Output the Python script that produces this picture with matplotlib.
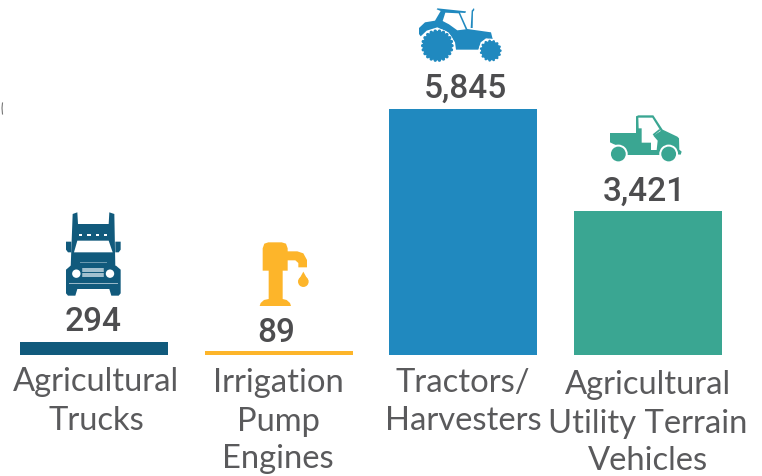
import numpy as np
import matplotlib
matplotlib.use("Agg")
import matplotlib.pyplot as plt
from matplotlib.patches import Polygon, Circle

# ---- data ----
categories = [["Agricultural", "Trucks"],
              ["Irrigation", "Pump", "Engines"],
              ["Tractors/", "Harvesters"],
              ["Agricultural", "Utility Terrain", "Vehicles"]]
values = [294, 89, 5845, 3421]
value_labels = ["294", "89", "5,845", "3,421"]
colors = ["#115A7C", "#FDB52A", "#2089BF", "#3AA692"]

W, H = 762, 477
fig = plt.figure(figsize=(W / 100, H / 100), dpi=100, facecolor="white")

# bar axes: value 0 at pixel row 355, 5845 at pixel row 109
ax = fig.add_axes([0, 0, 1, 1])
k = 5845 / 246
sp = 184.67
base = 355.5
ax.set_xlim(-94 / sp, (W - 94) / sp)
ax.set_ylim(-(H - base) * k, base * k)
ax.axis("off")
ax.bar(range(4), values, width=148 / sp, color=colors, linewidth=0)

# overlay in pixel coordinates for icons and text
ov = fig.add_axes([0, 0, 1, 1])
ov.set_xlim(0, W)
ov.set_ylim(H, 0)
ov.axis("off")
ov.patch.set_alpha(0)

TXT = "#4D4D4F"
LBL = "#5A5A5C"
val_x = [93, 276, 465, 644]
val_y = [331, 342, 98, 201]
for s, x, y in zip(value_labels, val_x, val_y):
    ov.text(x, y, s, ha="center", va="baseline", family="Roboto",
            fontsize=24, fontweight="medium", color=TXT)

lab_x = [96, 278, 463, 648]
lab_y = [[391, 430], [392, 431, 468], [392, 430], [394, 433, 470]]
for lines, x, ys in zip(categories, lab_x, lab_y):
    for s, y in zip(lines, ys):
        ov.text(x, y, s, ha="center", va="baseline", family="Lato",
                fontsize=23.6, color=LBL)

# small stray mark at the left edge of the picture
ov.plot([2.5, 2, 2.5], [104, 109, 115], color="#777777", lw=0.8)


def z1(p):
    return [(x / 3, y / 3 + 200) for x, y in p]


def z2(p):
    return [(x / 3 + 380, y / 3) for x, y in p]


def poly(p, c, z=3):
    ov.add_patch(Polygon(p, closed=True, fc=c, ec="none", zorder=z))


def circ(xy, r, c, z=3):
    ov.add_patch(Circle(xy, r, fc=c, ec="none", zorder=z))


# ---- truck ----
c = colors[0]
poly(z1([(218, 45), (232, 40), (234, 75), (326, 75), (328, 40), (343, 45), (346, 205), (212, 205)]), c)
poly(z1([(198, 128), (214, 128), (214, 160), (204, 160), (198, 152)]), c)
poly(z1([(346, 128), (362, 128), (362, 152), (356, 160), (346, 160)]), c)
poly(z1([(212, 200), (348, 200), (362, 212), (362, 283), (356, 290), (334, 290), (328, 270),
         (232, 270), (226, 290), (204, 290), (198, 283), (198, 212)]), c)
poly(z1([(232, 125), (326, 125), (338, 160), (222, 160)]), "white", 4)
for x0 in (236, 262, 288, 312):
    poly(z1([(x0, 106), (x0 + 10, 106), (x0 + 10, 111), (x0, 111)]), "white", 4)
for cx in (229, 330):
    (a, b), = z1([(cx, 224)])
    circ((a, b), 4.2, "white", 4)
for y0 in (210, 217, 224, 231):
    ov.plot(*zip(*z1([(250, y0), (308, y0)])), color="#CFE0E8", lw=1.1, zorder=4)
ov.plot(*zip(*z1([(240, 190), (318, 190)])), color="#6F9DB2", lw=0.7, zorder=4)
ov.plot(*zip(*z1([(208, 253), (350, 253)])), color="#9DBCCB", lw=0.7, zorder=4)

# ---- pump ----
c = colors[1]
poly(z1([(788, 148), (793, 134), (805, 130), (845, 130), (858, 134), (863, 148), (863, 157), (892, 157),
         (910, 163), (921, 183), (921, 205), (895, 205), (895, 192), (886, 184), (863, 184),
         (863, 215), (848, 215), (848, 300), (860, 303), (870, 312), (873, 321), (779, 321), (782, 312),
         (792, 303), (806, 300), (806, 215), (788, 215)]), c)
a, b = z1([(910, 248)])[0]
circ((a, b), 5.3, c)
poly(z1([(910, 218), (925, 245), (895, 245)]), c)

# ---- tractor ----
c = colors[2]
poly(z2([(117, 87), (135, 70), (165, 65), (182, 36), (170, 31), (172, 28), (258, 37), (256, 42), (240, 41),
         (262, 90), (333, 100), (338, 120), (318, 118), (302, 130), (295, 152), (228, 152),
         (225, 130), (205, 100), (172, 85), (140, 95), (122, 112), (117, 105)]), c)
poly(z2([(196, 41), (236, 43), (257, 91), (232, 94), (207, 76), (188, 66)]), "white", 4)
poly(z2([(272, 87), (275, 35), (282, 27), (283, 33), (279, 38), (278, 87)]), c)
for (cx, cy, r, n, tr) in ((172, 140, 44, 22, 5), (332, 155, 29, 15, 4)):
    a, b = z2([(cx, cy)])[0]
    R = r / 3
    circ((a, b), R + 2.2, "white", 3.5)
    circ((a, b), R, c, 4)
    for th in np.linspace(0, 2 * np.pi, n, endpoint=False):
        circ((a + R * np.cos(th), b + R * np.sin(th)), tr / 3, c, 4)

# ---- utility vehicle ----
c = colors[3]
poly(z2([(690, 402), (768, 402), (768, 352), (775, 349), (820, 349), (848, 392), (892, 413), (897, 418),
         (898, 452), (905, 458), (902, 467), (890, 466), (840, 468), (740, 468), (735, 448), (700, 435), (690, 430)]), c)
poly(z2([(775, 356), (817, 356), (842, 396), (820, 410), (833, 425), (830, 453), (813, 453), (813, 431),
         (785, 431), (785, 388), (776, 388)]), "white", 4)
poly(z2([(818, 406), (838, 390), (841, 394), (822, 410)]), c, 5)
for cx in (715, 866):
    a, b = z2([(cx, 465)])[0]
    circ((a, b), 9.4, "white", 4)
    circ((a, b), 7.4, c, 5)
poly(z2([(752, 468), (815, 468), (815, 454), (752, 454)]), c, 3)

fig.savefig("out.png", dpi=100, facecolor="white")
